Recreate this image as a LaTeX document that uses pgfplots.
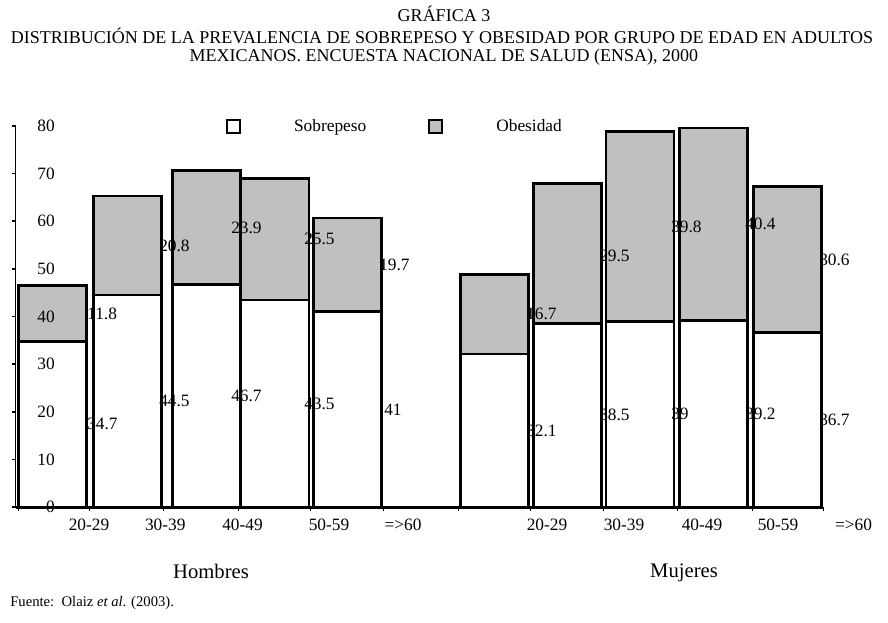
\documentclass[border=0pt]{standalone}
\usepackage{fontspec}
\setmainfont{Liberation Serif}
\usepackage{pgfplots}
\pgfplotsset{compat=1.18}
\definecolor{obgray}{HTML}{C0C0C0}
\newcommand{\lbl}[2]{\makebox[0pt]{\hspace*{\dimexpr #1pt*3/2\relax}#2}}
\newcommand{\lblm}[2]{\raisebox{-3pt}{\lbl{#1}{#2}}}
\begin{document}
\begin{tikzpicture}[x=0.75pt,y=-0.75pt]
\useasboundingbox (0,0) rectangle (888,622);
\node[font=\fontsize{13.5}{16}\selectfont] at (444,14) {GRÁFICA 3};
\node[font=\fontsize{13.5}{16}\selectfont] at (442,36) {DISTRIBUCIÓN DE LA PREVALENCIA DE SOBREPESO Y OBESIDAD POR GRUPO DE EDAD EN ADULTOS};
\node[font=\fontsize{13.5}{16}\selectfont] at (444,57.5) {MEXICANOS. ENCUESTA NACIONAL DE SALUD (ENSA), 2000};
\node[font=\fontsize{15.5}{18}\selectfont] at (211,571) {Hombres};
\node[font=\fontsize{15.5}{18}\selectfont] at (684,573) {Mujeres};
\node[font=\fontsize{11}{13}\selectfont, anchor=west, inner sep=0pt] at (10,603) {Fuente:\ \ Olaiz \textit{et al}. (2003).};
\begin{axis}[
  at={(11.625pt,-380.25pt)}, anchor=south west,
  scale only axis, width=605.625pt, height=285.75pt,
  xmin=15.5, xmax=823, ymin=0, ymax=80,
  clip=false, axis on top,
  axis x line=bottom, axis y line=left,
  x axis line style={-, line width=2.25pt, black},
  y axis line style={-, line width=0.75pt, black},
  ytick={0,10,...,80},
  yticklabel style={anchor=east, inner sep=0pt, xshift=32.6pt},
  y tick style={line width=1.2pt, black},
  x tick style={line width=0.75pt, black},
  tick align=outside, major tick length=3pt,
  xtick={18,89,163,238,310,383,458,530,603,677,752,823},
  xticklabels={{}, \lbl{0}{20-29}, \lbl{2.3}{30-39}, \lbl{4.5}{40-49}, \lbl{19}{50-59}, \lbl{20}{=>60},
               {}, \lblm{17}{20-29}, \lblm{21}{30-39}, \lblm{25}{40-49}, \lblm{26}{50-59}, \lblm{30.5}{=>60}},
  xticklabel style={inner sep=0pt, yshift=-6pt},
  ticklabel style={font=\fontsize{13}{15}\selectfont},
  /pgf/number format/assume math mode=true,
  legend columns=-1,
  legend style={draw=none, fill=none, at={(0.2607,0.9987)}, anchor=west, inner sep=0pt, outer sep=0pt,
    /tikz/every even column/.append style={column sep=46.5pt},
    font=\fontsize{13}{15}\selectfont, nodes={inner sep=0pt}},
  legend image code/.code={\draw[#1] (0pt,-4.875pt) rectangle (9.75pt,4.875pt); \path[draw=none,fill=none] (0pt,0pt) -- (50.25pt,0pt);},
]
% totals (obesidad on top of sobrepeso)
\addplot[ybar, bar width=68, bar shift=0pt, fill=obgray, draw=black, line width=2pt, forget plot]
  coordinates {(52.8,46.5) (127.3,65.3) (206.2,70.6) (275,69.0) (347.2,60.7)
               (494.5,48.8) (567.2,68.0) (640,78.8) (713.2,79.6) (787.2,67.3)};
% sobrepeso
\addplot[ybar, bar width=68, bar shift=0pt, fill=white, draw=black, line width=2pt, forget plot]
  coordinates {(52.8,34.7) (127.3,44.5) (206.2,46.7) (275,43.5) (347.2,41)
               (494.5,32.1) (567.2,38.5) (640,39) (713.2,39.2) (787.2,36.7)};
% value labels
\addplot[draw=none, mark=none, forget plot, nodes near coords, point meta=explicit symbolic,
  nodes near coords align=horizontal,
  nodes near coords style={anchor=west, inner sep=0pt, font=\fontsize{13}{15}\selectfont}]
  table[meta=lab] {
x y lab
87 17.35 34.7
87 40.6 11.8
159 22.25 44.5
159 54.9 20.8
231 23.35 46.7
231 58.65 23.9
304 21.75 43.5
304 56.25 25.5
384 20.5 41
379 50.85 19.7
526 16.05 32.1
526 40.45 16.7
599 19.25 38.5
599 52.75 29.5
671 19.5 39
671 58.9 39.8
745 19.6 39.2
745 59.4 40.4
819 18.35 36.7
819 52.0 30.6
};
\addlegendimage{fill=white, draw=black, line width=1.6pt}
\addlegendentry{Sobrepeso}
\addlegendimage{fill=obgray, draw=black, line width=1.6pt}
\addlegendentry{Obesidad}
\end{axis}
\end{tikzpicture}
\end{document}
